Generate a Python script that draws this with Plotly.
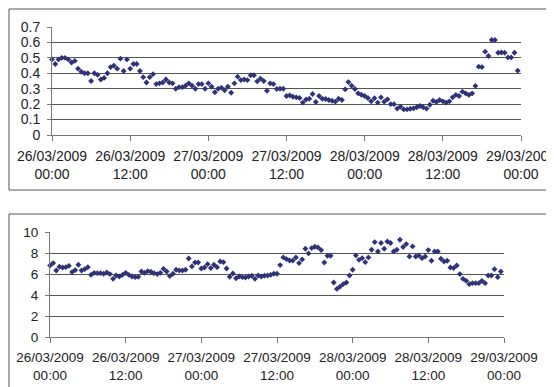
import pandas as pd
import plotly.graph_objects as go

# ---- data (30-minute readings) ----
start = "2009-03-26 00:00"
top_values = [0.49, 0.46, 0.49, 0.50, 0.50, 0.49, 0.47, 0.48, 0.43, 0.41, 0.40, 0.40, 0.35, 0.40, 0.39, 0.36,
              0.37, 0.40, 0.44, 0.45, 0.43, 0.495, 0.415, 0.49, 0.43, 0.46, 0.46, 0.415, 0.375, 0.34, 0.375, 0.395,
              0.33, 0.335, 0.34, 0.36, 0.34, 0.335, 0.30, 0.31, 0.31, 0.32, 0.335, 0.32, 0.30, 0.33, 0.33, 0.30,
              0.335, 0.313, 0.277, 0.30, 0.307, 0.29, 0.313, 0.274, 0.335, 0.378, 0.356, 0.36, 0.356, 0.387, 0.387, 0.348,
              0.365, 0.35, 0.287, 0.335, 0.33, 0.298, 0.30, 0.30, 0.253, 0.257, 0.248, 0.244, 0.24, 0.21, 0.23, 0.235,
              0.266, 0.214, 0.253, 0.235, 0.233, 0.227, 0.222, 0.216, 0.235, 0.227, 0.296, 0.343, 0.32, 0.298, 0.27, 0.261,
              0.253, 0.24, 0.218, 0.238, 0.21, 0.244, 0.216, 0.231, 0.20, 0.20, 0.171, 0.184, 0.166, 0.166, 0.17, 0.173,
              0.18, 0.188, 0.18, 0.171, 0.196, 0.222, 0.214, 0.227, 0.218, 0.21, 0.218, 0.244, 0.26, 0.253, 0.281, 0.27,
              0.26, 0.27, 0.318, 0.443, 0.44, 0.54, 0.512, 0.616, 0.616, 0.533, 0.535, 0.533, 0.503, 0.503, 0.533, 0.417]
bottom_values = [6.81, 7.04, 6.33, 6.69, 6.62, 6.65, 6.78, 6.18, 6.37, 6.88, 6.33, 6.46, 6.65, 5.92, 6.11, 6.08,
                 6.08, 6.02, 6.14, 5.99, 5.54, 5.86, 5.76, 5.92, 6.11, 5.92, 5.76, 5.70, 5.73, 6.24, 6.11, 6.27,
                 6.21, 6.08, 5.99, 6.11, 6.49, 6.24, 5.80, 6.02, 6.40, 6.33, 6.33, 6.40, 7.48, 6.72, 7.10, 7.10,
                 6.52, 6.62, 6.94, 6.56, 6.88, 6.65, 7.19, 7.13, 6.52, 5.73, 6.05, 5.60, 5.76, 5.70, 5.67, 5.76,
                 5.83, 5.54, 5.86, 5.76, 5.83, 5.86, 5.92, 6.02, 6.02, 6.85, 7.58, 7.42, 7.29, 7.29, 7.58, 7.04,
                 7.39, 8.40, 7.96, 8.47, 8.60, 8.53, 8.28, 7.10, 7.74, 7.74, 5.19, 4.58, 4.80, 5.03, 5.19, 5.86,
                 6.40, 7.77, 7.35, 7.51, 7.13, 7.58, 8.31, 9.04, 8.15, 8.95, 8.40, 9.10, 8.95, 8.15, 8.31, 9.26,
                 8.57, 8.85, 7.67, 8.63, 7.67, 7.77, 7.51, 7.67, 8.28, 7.26, 8.15, 8.15, 7.45, 7.19, 7.26, 6.62,
                 6.56, 6.81, 5.99, 5.54, 5.35, 5.03, 5.13, 5.13, 5.13, 5.35, 5.13, 5.86, 5.86, 6.46, 5.70, 6.24]
tick_times = ["2009-03-26 00:00", "2009-03-26 12:00", "2009-03-27 00:00", "2009-03-27 12:00",
              "2009-03-28 00:00", "2009-03-28 12:00", "2009-03-29 00:00"]
tick_labels = ["26/03/2009<br>00:00", "26/03/2009<br>12:00", "27/03/2009<br>00:00", "27/03/2009<br>12:00",
               "28/03/2009<br>00:00", "28/03/2009<br>12:00", "29/03/2009<br>00:00"]

t_top = pd.date_range(start, periods=len(top_values), freq="30min")
t_bot = pd.date_range(start, periods=len(bottom_values), freq="30min")

W, H = 554, 387
OFF = 8  # the page body adds an 8px margin; compensate so positions match the window


def px(x):
    return (x - OFF) / W


def py(y):
    return 1 - (y - OFF) / H


FONT = "Liberation Sans, Arial, sans-serif"
MARK = "#2f3276"
GRID = "#555555"
AX = "#777777"

fig = go.Figure()
fig.add_trace(go.Scatter(x=t_top, y=top_values, mode="markers", cliponaxis=False,
                         marker=dict(symbol="diamond", size=4.5, color=MARK), xaxis="x", yaxis="y"))
fig.add_trace(go.Scatter(x=t_bot, y=bottom_values, mode="markers", cliponaxis=False,
                         marker=dict(symbol="diamond", size=4.5, color=MARK), xaxis="x2", yaxis="y2"))


def xa(domain, anchor, size):
    return dict(domain=domain, anchor=anchor, range=[tick_times[0], tick_times[-1]],
                tickmode="array", tickvals=tick_times, ticktext=tick_labels,
                ticks="outside", ticklen=5, tickcolor=AX, showline=True, linecolor=AX,
                showgrid=False, zeroline=False, tickangle=0, automargin=False,
                ticklabelstandoff=3, ticklabeloverflow="allow",
                tickfont=dict(family=FONT, size=size, color="#222"))


def ya(domain, anchor, rng, dtick, size):
    return dict(domain=domain, anchor=anchor, range=rng, dtick=dtick, tick0=0,
                ticks="outside", ticklen=4, tickcolor=AX, showline=True, linecolor=AX,
                showgrid=True, gridcolor=GRID, gridwidth=1, zeroline=False, automargin=False,
                ticklabelstandoff=4,
                tickfont=dict(family=FONT, size=size, color="#222"))


fig.update_layout(
    width=W, height=H, margin=dict(l=0, r=0, t=0, b=0, autoexpand=False),
    paper_bgcolor="white", plot_bgcolor="white", showlegend=False,
    xaxis=xa([px(52), px(521)], "y", 14),
    yaxis=ya([py(135), py(27)], "x", [0, 0.7], 0.1, 14),
    xaxis2=xa([px(50), px(504)], "y2", 13.5),
    yaxis2=ya([py(337), py(232)], "x2", [0, 10], 2, 13.5),
    shapes=[
        dict(type="rect", xref="paper", yref="paper", x0=px(9), x1=1.05, y0=py(190), y1=py(9),
             line=dict(color="#555", width=1)),
        dict(type="rect", xref="paper", yref="paper", x0=px(9), x1=px(547), y0=-0.05, y1=py(214),
             line=dict(color="#555", width=1)),
    ],
)

fig.write_html("out.html")
